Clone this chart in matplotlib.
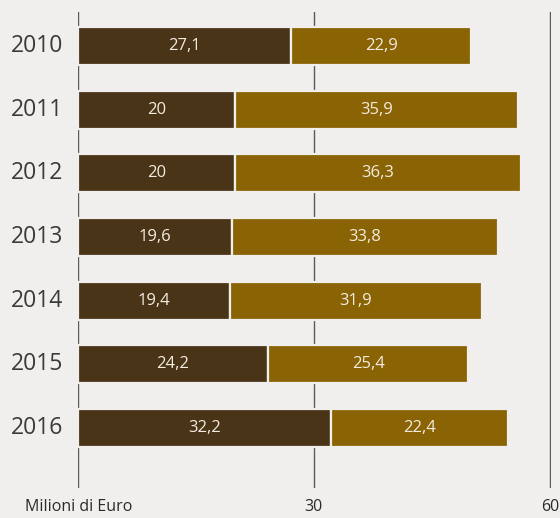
import matplotlib
matplotlib.use("Agg")
import matplotlib.pyplot as plt
from matplotlib.transforms import blended_transform_factory

# Data
years = ["2010", "2011", "2012", "2013", "2014", "2015", "2016"]
first = [27.1, 20, 20, 19.6, 19.4, 24.2, 32.2]
second = [22.9, 35.9, 36.3, 33.8, 31.9, 25.4, 22.4]
ticks = [30, 60]

bg = "#f0efee"
dark = "#4a3418"
gold = "#8a6404"
txt = "#f4ece0"
sans = ["Open Sans", "DejaVu Sans"]

def fmt(v):
    s = ("%.1f" % v).rstrip("0").rstrip(".")
    return s.replace(".", ",")

fig = plt.figure(figsize=(5.6, 5.18), dpi=100, facecolor=bg)
ax = fig.add_axes([77.5 / 560, 1 - 488 / 518, (551 - 77.5) / 560, (488 - 12) / 518])
ax.set_facecolor(bg)

ypos = list(range(len(years)))

# grid lines behind bars
for x in [0] + ticks:
    ax.axvline(x, color="#5a5a5a", lw=1.0, zorder=0)

ax.barh(ypos, first, height=0.6, color=dark, edgecolor=bg, linewidth=1.6, zorder=2)
ax.barh(ypos, second, left=first, height=0.6, color=gold, edgecolor=bg, linewidth=1.6, zorder=2)

for i in ypos:
    ax.text(first[i] / 2, i, fmt(first[i]), ha="center", va="center",
            color=txt, fontsize=12, family=sans, zorder=3)
    ax.text(first[i] + second[i] / 2, i, fmt(second[i]), ha="center", va="center",
            color=txt, fontsize=12, family=sans, zorder=3)
    ax.text(-1.8, i, years[i], ha="right", va="center", color="#3a3a3a",
            fontsize=16.5, family=sans)

ax.set_xlim(0, 60.1)
ax.set_ylim(6.942, -0.534)
ax.axis("off")

# bottom labels
bottom = blended_transform_factory(ax.transData, fig.transFigure)
for t in ticks:
    ax.text(t, 1 - 507 / 518, str(t), transform=bottom, ha="center", va="center",
            color="#2a2a2a", fontsize=11.5, family=sans)
fig.text(25 / 560, 1 - 507 / 518, "Milioni di Euro", ha="left", va="center",
         color="#2a2a2a", fontsize=11.5, family=sans)

fig.savefig("out.png", dpi=100, facecolor=bg)
